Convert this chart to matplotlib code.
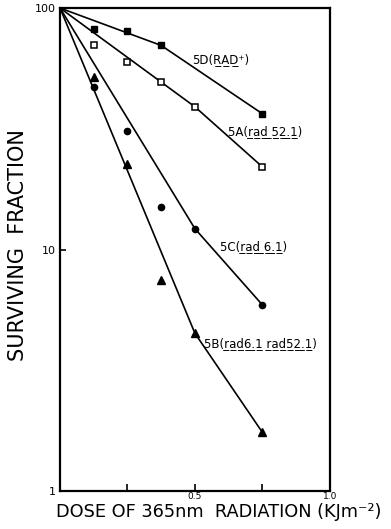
import matplotlib
matplotlib.use('Agg')
import matplotlib.pyplot as plt

plt.rcParams['font.family'] = ['DejaVu Sans']


def ul(s):
    # underline with combining low line
    return ''.join(c + '\u0332' for c in s)


# dose (kJ m^-2) where survival was measured
dose = [0.125, 0.25, 0.375, 0.5, 0.75]

# 5D (RAD+) - filled squares, no point at 0.5
dose_5d = [0.125, 0.25, 0.375, 0.75]
surv_5d = [82, 80, 70, 36.5]
fit_dose_5d = [0, 0.375, 0.75]
fit_surv_5d = [100, 70, 36.5]

# 5A (rad52.1) - open squares
surv_5a = [70, 60, 49.5, 39, 22]
fit_dose_5a = [0, 0.5, 0.75]
fit_surv_5a = [100, 39, 22]

# 5C (rad6.1) - filled circles
surv_5c = [47, 31, 15, 12.2, 5.9]
fit_dose_5c = [0, 0.5, 0.75]
fit_surv_5c = [100, 12.2, 5.9]

# 5B (rad6.1 rad52.1) - triangles
surv_5b = [52, 22.5, 7.5, 4.5, 1.75]
fit_dose_5b = [0, 0.5, 0.75]
fit_surv_5b = [100, 4.5, 1.75]

fig = plt.figure(figsize=(3.91, 5.29), dpi=100)
ax = fig.add_axes([0.1535, 0.0718, 0.690, 0.913])

lc = 'black'
ax.plot(fit_dose_5d, fit_surv_5d, color=lc, lw=1.2)
ax.plot(fit_dose_5a, fit_surv_5a, color=lc, lw=1.2)
ax.plot(fit_dose_5c, fit_surv_5c, color=lc, lw=1.2)
ax.plot(fit_dose_5b, fit_surv_5b, color=lc, lw=1.2)

ax.plot(dose_5d, surv_5d, 's', color=lc, ms=5, ls='none')
ax.plot(dose, surv_5a, 's', mfc='white', mec=lc, mew=1.1, ms=4, ls='none')
ax.plot(dose, surv_5c, 'o', color=lc, ms=4.5, ls='none')
ax.plot(dose, surv_5b, '^', color=lc, ms=5.5, ls='none')

lab = dict(fontsize=8.5, va='center', ha='left')
ax.text(0.489, 61, '5D(' + ul('RAD') + '\u207a)', **lab)
ax.text(0.622, 30.7, '5A(' + ul('rad 52.1') + ')', **lab)
ax.text(0.593, 10.3, '5C(' + ul('rad 6.1') + ')', **lab)
ax.text(0.533, 4.1, '5B(' + ul('rad6.1') + ' ' + ul('rad52.1') + ')', **lab)

ax.set_yscale('log')
ax.set_xlim(0, 1.0)
ax.set_ylim(1, 100)
ax.set_yticks([1, 10, 100])
ax.set_yticklabels(['1', '10', '100'], fontsize=8)
ax.minorticks_off()
ax.set_xticks([0.25, 0.5, 0.75, 1.0])
ax.set_xticklabels(['', '0.5', '', '1.0'], fontsize=6.5)
ax.tick_params(axis='x', direction='in', length=5, width=1.2, pad=1)
ax.tick_params(axis='y', direction='in', length=4, width=1.2, pad=3)

for s in ax.spines.values():
    s.set_linewidth(1.6)

ax.set_xlabel('DOSE OF 365nm  RADIATION (KJm\u207b\u00b2)', fontsize=12.8)
ax.xaxis.set_label_coords(0.589, -0.025)
ax.set_ylabel('SURVIVING  FRACTION', fontsize=15)
ax.yaxis.set_label_coords(-0.118, 0.509)

fig.savefig('out.png', dpi=100)
